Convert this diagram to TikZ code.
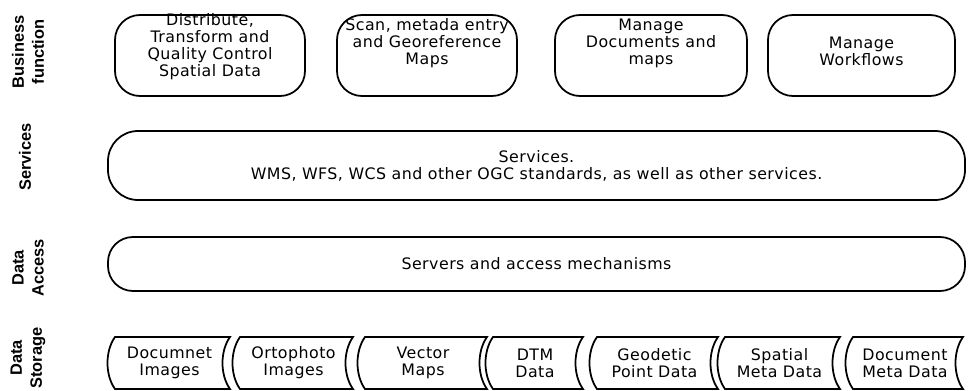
\documentclass[tikz,border=0pt]{standalone}
\usepackage{fontspec}
\setmainfont{DejaVu Sans}[LetterSpace=3]
\newfontfamily\layerfont{Liberation Sans}

\begin{document}
\begin{tikzpicture}[x=0.3mm, y=-0.3mm, line width=1.5pt,
	every node/.style={font=\fontsize{13.5}{14.5}\selectfont, align=center},
	layer/.style={font=\layerfont\bfseries\fontsize{14}{17}\selectfont, rotate=90},
	bizbox/.style={draw, rounded corners=7.5mm, minimum width=#1, minimum height=24.3mm},
	bandbox/.style={draw, minimum width=257.1mm}]
			\useasboundingbox (0,0) rectangle (970,391);

			% Layer names
			\node[layer] (lbusiness) at (28,52) {Business\\function};
			\node[layer] (lservices) at (25,157) {Services};
			\node[layer] (laccess) at (28,268) {Data\\Access};
			\node[layer] (lstorage) at (28,358) {Data\\Storage};

			% Business functions
			\node[bizbox=57mm] (distbox) at (210,55.5) {};
			\node (disttxt) at (210,47) {Distribute,\\Transform and\\Quality Control\\Spatial Data};
			\node[bizbox=54mm] (scanbox) at (427,55.5) {};
			\node (scantxt) at (427,43) {Scan, metada entry\\and Georeference\\Maps};
			\node[bizbox=57.6mm] (docbox) at (651,55.5) {};
			\node (doctxt) at (651,43) {Manage\\Documents and\\maps};
			\node[bizbox=56.1mm] (flowbox) at (861.5,55.5) {};
			\node (flowtxt) at (861.5,51) {Manage\\Workflows};

			% Services
			\node[bandbox, rounded corners=9mm, minimum height=20.7mm] (services) at (536.5,165.5)
				{Services.\\WMS, WFS, WCS and other OGC standards, as well as other services.};

			% Data access
			\node[bandbox, rounded corners=7.5mm, minimum height=16.2mm] (access) at (536.5,264)
				{Servers and access mechanisms};

			% Data storage
			\foreach \l/\r/\n/\t in {115/230/docimages/{Documnet\\Images}, 240/353/orthoimages/{Ortophoto\\Images},
				365/487/vectormaps/{Vector\\Maps}, 493/583/dtmdata/{DTM\\Data}, 597/718/geodetic/{Geodetic\\Point Data},
				725/840/spatialmeta/{Spatial\\Meta Data}, 853/963/docmeta/{Document\\Meta Data}}
			{
				\draw (\l,337) -- (\r,337) .. controls +(-10,14) and +(-10,-14) .. (\r,389)
					-- (\l,389) .. controls +(-10,-14) and +(-10,14) .. (\l,337) -- cycle;
				\node (\n) at ({(\l+\r)/2-3},363) {\t};
			}
		\end{tikzpicture}
\end{document}
